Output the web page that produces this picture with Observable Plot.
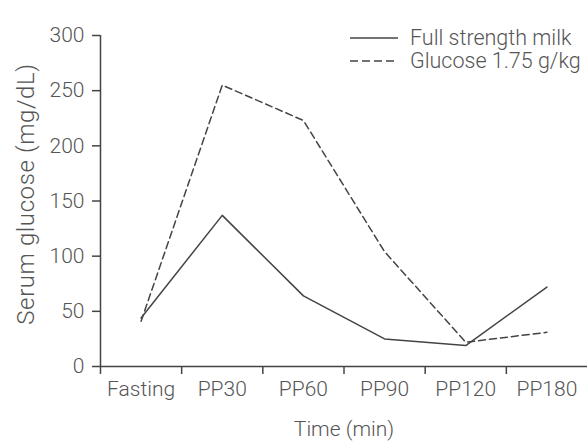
<!DOCTYPE html>
<html>
<head>
<meta charset="utf-8">
<script src="https://cdn.jsdelivr.net/npm/d3@7"></script>
<script src="https://cdn.jsdelivr.net/npm/@observablehq/plot@0.6"></script>
<style>
  html, body { margin: 0; padding: 0; background: #fff; }
  #wrap { position: relative; width: 587px; height: 445px; overflow: hidden; font-family: Roboto, "Liberation Sans", sans-serif; font-weight: 300; color: #555; }
  #legend { position: absolute; left: 350px; top: 26px; font-size: 21.5px; line-height: 23px; white-space: nowrap; }
  #legend .row { display: flex; align-items: center; height: 23px; }
  #legend svg { margin-right: 12px; }
</style>
</head>
<body>
<div id="wrap"></div>
<script>
const categories = ["Fasting", "PP30", "PP60", "PP90", "PP120", "PP180"];
const milkValues = [44, 137, 64, 25, 19, 72];
const glucoseValues = [41, 255, 223, 104, 22, 31];
const seriesNames = ["Full strength milk", "Glucose 1.75 g/kg"];
const yTicks = [0, 50, 100, 150, 200, 250, 300];
const yLabel = "Serum glucose (mg/dL)";
const xLabel = "Time (min)";

const data = [];
categories.forEach((c, i) => {
  data.push({i, cat: c, value: milkValues[i], series: seriesNames[0]});
  data.push({i, cat: c, value: glucoseValues[i], series: seriesNames[1]});
});
const idx = categories.map((c, i) => i);
const boundaries = idx.map(i => i - 0.5);

const ink = "#444";
const textColor = "#555";

const chart = Plot.plot({
  width: 587,
  height: 445,
  marginLeft: 100,
  marginRight: 0,
  marginTop: 35,
  marginBottom: 79,
  style: {fontFamily: "Roboto, 'Liberation Sans', sans-serif", fontSize: "21px", fontWeight: 300, color: textColor, background: "white"},
  x: {type: "linear", domain: [-0.5, 5.5]},
  y: {domain: [0, 300]},
  marks: [
    Plot.axisY({ticks: yTicks, tickSize: 8, tickPadding: 8, stroke: ink, strokeWidth: 1.5, fill: textColor, label: null}),
    Plot.axisX({ticks: boundaries, tickSize: 8, tickFormat: () => "", stroke: ink, strokeWidth: 1.5, label: null}),
    Plot.axisX({ticks: idx, tickSize: 0, tickPadding: 15, tickFormat: i => categories[i], fill: textColor,
      label: xLabel, labelAnchor: "center", labelOffset: 69, labelArrow: "none"}),
    Plot.text([yLabel], {text: d => d, frameAnchor: "left", textAnchor: "middle", rotate: -90, dx: -74, dy: -7, fontSize: 24, fill: textColor}),
    Plot.ruleY([0], {stroke: ink, strokeWidth: 1.5}),
    Plot.ruleX([-0.5], {y1: 0, y2: 300, stroke: ink, strokeWidth: 1.5}),
    Plot.line(data.filter(d => d.series === seriesNames[0]), {x: "i", y: "value", stroke: ink, strokeWidth: 1.5}),
    Plot.line(data.filter(d => d.series === seriesNames[1]), {x: "i", y: "value", stroke: ink, strokeWidth: 1.5, strokeDasharray: "7,4"})
  ]
});
const wrap = document.getElementById("wrap");
wrap.appendChild(chart);
chart.querySelectorAll("text").forEach(t => {
  if (t.textContent === yLabel) t.style.letterSpacing = "0.6px";
});

const legend = document.createElement("div");
legend.id = "legend";
legend.innerHTML = seriesNames.map((name, k) => `
  <div class="row">
    <svg width="48" height="4"><line x1="0" x2="48" y1="2" y2="2" stroke="${ink}" stroke-width="1.5" ${k === 1 ? 'stroke-dasharray="8,4"' : ''}/></svg>
    <span>${name}</span>
  </div>`).join("");
wrap.appendChild(legend);
</script>
</body>
</html>
